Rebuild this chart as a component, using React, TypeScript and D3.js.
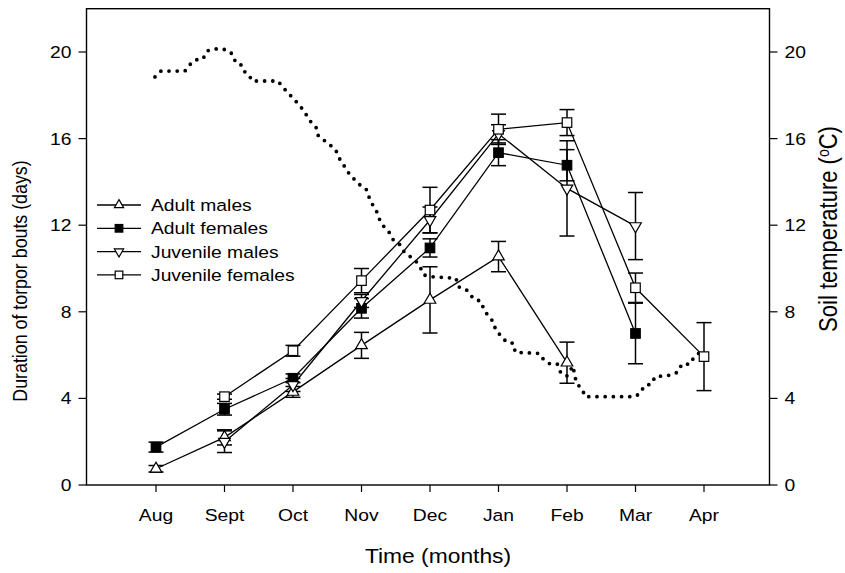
import React from "react";
import * as d3 from "d3";

const months = ["Aug", "Sept", "Oct", "Nov", "Dec", "Jan", "Feb", "Mar", "Apr"];
const yTicks = [0, 4, 8, 12, 16, 20];

// month index 1 = Aug
const adultMalesMonth = [1, 2, 3, 4, 5, 6, 7];
const adultMalesMean = [0.75, 2.2, 4.3, 6.45, 8.55, 10.55, 5.65];
const adultMalesErr = [0.15, 0.35, 0.25, 0.6, 1.53, 0.7, 0.95];

const adultFemalesMonth = [1, 2, 3, 4, 5, 6, 7, 8];
const adultFemalesMean = [1.75, 3.5, 4.93, 8.16, 10.95, 15.35, 14.77, 7.0];
const adultFemalesErr = [0.23, 0.27, 0.2, 0.45, 0.42, 0.6, 0.72, 1.4];

const juvenileMalesMonth = [2, 3, 4, 5, 6, 7, 8];
const juvenileMalesMean = [2.0, 4.62, 8.5, 12.24, 16.22, 13.7, 11.96];
const juvenileMalesErr = [0.5, 0.3, 0.3, 0.6, 0.42, 2.2, 1.55];

const juvenileFemalesMonth = [2, 3, 4, 5, 6, 7, 8, 9];
const juvenileFemalesMean = [4.08, 6.2, 9.44, 12.7, 16.43, 16.74, 9.11, 5.93];
const juvenileFemalesErr = [0.12, 0.25, 0.56, 1.05, 0.7, 0.6, 0.68, 1.57];

const tempMonth = [
  0.985, 1.073, 1.423, 1.496, 1.569, 1.686, 1.745, 1.847, 1.978, 2.095, 2.139, 2.226, 2.27, 2.358, 2.401,
  2.781, 2.844, 3.069, 3.142, 3.27, 3.346, 3.37, 3.467, 3.62, 3.676, 3.832, 4.003, 4.077, 4.124, 4.23,
  4.27, 4.343, 4.416, 4.464, 4.552, 4.625, 4.781, 4.854, 4.912, 5.025, 5.38, 5.413, 5.526, 5.642, 5.745,
  5.788, 5.851, 5.924, 5.959, 6.047, 6.12, 6.216, 6.245, 6.596, 6.664, 6.752, 6.858, 6.908, 6.996, 7.088,
  7.117, 7.146, 7.223, 7.263, 7.993, 8.076, 8.124, 8.236, 8.285, 8.529, 8.625, 8.674, 8.796, 8.844, 8.942,
];
const tempC = [
  18.85, 19.12, 19.12, 19.42, 19.63, 19.68, 20.05, 20.14, 20.14, 19.98, 19.63, 19.52, 19.15, 18.94, 18.66,
  18.66, 18.4, 17.63, 17.35, 16.73, 16.48, 16.12, 15.89, 15.5, 15.09, 14.32, 13.78, 13.63, 13.16, 12.58,
  12.21, 11.86, 11.63, 11.32, 11.13, 10.75, 10.39, 10.08, 9.7, 9.62, 9.55, 9.16, 9.04, 8.58, 8.49,
  8.08, 7.82, 7.54, 7.16, 6.85, 6.59, 6.55, 6.13, 6.08, 5.77, 5.59, 5.59, 5.19, 5.03, 5.5,
  4.99, 4.67, 4.42, 4.08, 4.08, 4.26, 4.57, 4.67, 5.0, 5.08, 5.23, 5.58, 5.58, 5.85, 6.14,
];

const seriesNames = ["Adult males", "Adult females", "Juvenile males", "Juvenile females"];

type Kind = "triUp" | "sqFill" | "triDown" | "sqOpen";
const kinds: Kind[] = ["triUp", "sqFill", "triDown", "sqOpen"];

const FONT = "'Liberation Sans', Arial, sans-serif";
const LEFT = 86.5;
const RIGHT = 769.5;
const BOTTOM = 485;
const SX = 1.17;

function Marker({ kind, cx, cy, scale = 1 }: { kind: Kind; cx: number; cy: number; scale?: number }) {
  if (kind === "sqFill" || kind === "sqOpen") {
    const s = 9.5 * scale;
    return (
      <rect
        x={cx - s / 2}
        y={cy - s / 2}
        width={s}
        height={s}
        fill={kind === "sqFill" ? "#000" : "#fff"}
        stroke="#000"
        strokeWidth={1.2}
      />
    );
  }
  const sym = d3.symbol(d3.symbolTriangle, 58 * scale * scale)()!;
  return (
    <path
      d={sym}
      transform={`translate(${cx},${cy})${kind === "triDown" ? " rotate(180)" : ""}`}
      fill="#fff"
      stroke="#000"
      strokeWidth={1.2}
    />
  );
}

function SText({
  x,
  y,
  anchor = "start",
  size,
  rotate = 0,
  children,
  dy,
}: {
  x: number;
  y: number;
  anchor?: string;
  size: number;
  rotate?: number;
  children: React.ReactNode;
  dy?: string;
}) {
  return (
    <g transform={`translate(${x},${y}) scale(${SX},1)${rotate ? ` rotate(${rotate})` : ""}`}>
      <text x={0} y={0} dy={dy} textAnchor={anchor as any} fontSize={size}>
        {children}
      </text>
    </g>
  );
}

export default function App() {
  const x = d3.scaleLinear().domain([1, 9]).range([156, 704]);
  const y = d3.scaleLinear().domain([0, 22]).range([BOTTOM, BOTTOM - 22 * 21.65]);
  const top = y(22);

  const series = [
    { m: adultMalesMonth, v: adultMalesMean, e: adultMalesErr },
    { m: adultFemalesMonth, v: adultFemalesMean, e: adultFemalesErr },
    { m: juvenileMalesMonth, v: juvenileMalesMean, e: juvenileMalesErr },
    { m: juvenileFemalesMonth, v: juvenileFemalesMean, e: juvenileFemalesErr },
  ];

  const line = d3
    .line<[number, number]>()
    .x((d) => x(d[0]))
    .y((d) => y(d[1]));

  const tempPts: [number, number][] = tempMonth.map((m, i) => [m, tempC[i]]);

  const capW = 7.5;

  return (
    <svg
      width={845}
      height={573}
      style={{ position: "absolute", left: 0, top: 0, background: "#fff" }}
      fontFamily={FONT}
    >
      <rect width={845} height={573} fill="#fff" />
      {/* temperature dotted line */}
      <path
        d={line(tempPts)!}
        fill="none"
        stroke="#000"
        strokeWidth={3.8}
        strokeLinecap="round"
        strokeDasharray="0 8.2"
      />
      {/* error bars */}
      {series.map((s, si) =>
        s.m.map((m, i) => {
          const cx = x(m);
          const y1 = y(s.v[i] + s.e[i]);
          const y2 = y(s.v[i] - s.e[i]);
          return (
            <g key={`e${si}-${i}`} stroke="#000" strokeWidth={1.5}>
              <line x1={cx} x2={cx} y1={y1} y2={y2} />
              <line x1={cx - capW} x2={cx + capW} y1={y1} y2={y1} />
              <line x1={cx - capW} x2={cx + capW} y1={y2} y2={y2} />
            </g>
          );
        })
      )}
      {/* series lines */}
      {series.map((s, si) => (
        <path
          key={`l${si}`}
          d={line(s.m.map((m, i) => [m, s.v[i]] as [number, number]))!}
          fill="none"
          stroke="#000"
          strokeWidth={1.3}
        />
      ))}
      {/* markers */}
      {series.map((s, si) =>
        s.m.map((m, i) => <Marker key={`m${si}-${i}`} kind={kinds[si]} cx={x(m)} cy={y(s.v[i])} />)
      )}
      {/* frame */}
      <rect x={LEFT} y={top} width={RIGHT - LEFT} height={BOTTOM - top} fill="none" stroke="#000" strokeWidth={1.4} />
      {/* y axes */}
      {yTicks.map((t) => (
        <g key={`yl${t}`}>
          <line x1={LEFT - 8} x2={LEFT} y1={y(t)} y2={y(t)} stroke="#000" strokeWidth={1.2} />
          <SText x={LEFT - 15} y={y(t)} dy="0.36em" anchor="end" size={16.5}>
            {t}
          </SText>
          <line x1={RIGHT} x2={RIGHT + 8} y1={y(t)} y2={y(t)} stroke="#000" strokeWidth={1.2} />
          <SText x={RIGHT + 15} y={y(t)} dy="0.36em" anchor="start" size={16.5}>
            {t}
          </SText>
        </g>
      ))}
      {/* x axis */}
      {months.map((mn, i) => (
        <g key={`x${mn}`}>
          <line x1={x(i + 1)} x2={x(i + 1)} y1={BOTTOM} y2={BOTTOM + 7} stroke="#000" strokeWidth={1.2} />
          <SText x={x(i + 1)} y={521} anchor="middle" size={16.5}>
            {mn}
          </SText>
        </g>
      ))}
      {/* axis titles */}
      <SText x={438} y={563} anchor="middle" size={19.5}>
        Time (months)
      </SText>
      <SText x={27} y={281} anchor="middle" size={17.8} rotate={-90}>
        Duration of torpor bouts (days)
      </SText>
      <SText x={837} y={229} anchor="middle" size={22} rotate={-90}>
        Soil temperature (<tspan dy="-7" fontSize={14}>o</tspan>
        <tspan dy="7">C)</tspan>
      </SText>
      {/* legend */}
      {seriesNames.map((n, i) => {
        const ly = 205 + i * 23.3;
        return (
          <g key={`lg${n}`}>
            <line x1={97} x2={141} y1={ly} y2={ly} stroke="#000" strokeWidth={1.3} />
            <Marker kind={kinds[i]} cx={119} cy={ly} scale={0.8} />
            <SText x={151} y={ly} dy="0.36em" size={16.5}>
              {n}
            </SText>
          </g>
        );
      })}
    </svg>
  );
}
